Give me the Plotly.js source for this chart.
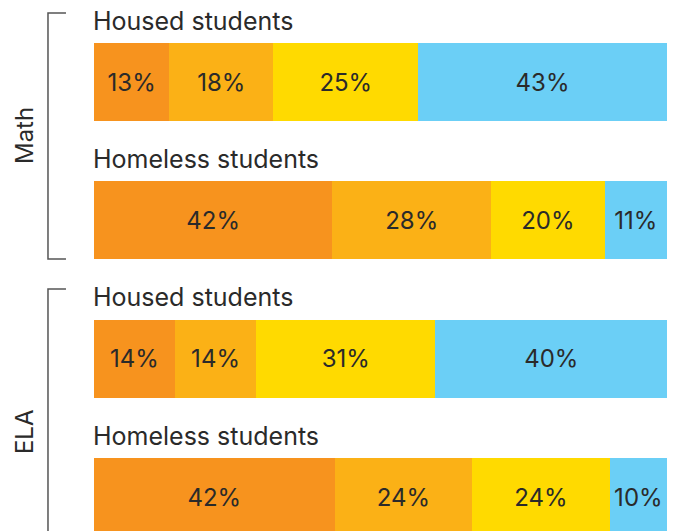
<!DOCTYPE html>
<html>
<head>
<meta charset="utf-8">
<script src="https://cdn.plot.ly/plotly-3.0.1.min.js"></script>
<style>html,body{margin:0;padding:0;background:#fff;}#chart{width:673px;height:531px;}</style>
</head>
<body>
<div id="chart"></div>
<script>
// Rows, top to bottom
var rowLabels = ["Housed students", "Homeless students", "Housed students", "Homeless students"];
var groupLabels = ["Math", "ELA"];
// Segment values (percent), left to right
var seg1 = [13, 42, 14, 42];
var seg2 = [18, 28, 14, 24];
var seg3 = [25, 20, 31, 24];
var seg4 = [43, 11, 40, 10];
var segColors = ["#F7931E", "#FBB116", "#FFDA00", "#6BCFF6"];

var rows = [0, 1, 2, 3];
var FONT = "Inter, 'Noto Sans', sans-serif";
var TXT = "#2a2a2a";

function seg(vals, color) {
  return {
    type: "bar", orientation: "h",
    x: vals, y: rows,
    width: 0.564,
    marker: {color: color, line: {width: 0}},
    text: vals.map(function (v) { return v + "%"; }),
    textposition: "inside",
    insidetextanchor: "middle",
    textangle: 0,
    textfont: {family: FONT, size: 24, color: TXT},
    hoverinfo: "skip",
    showlegend: false
  };
}

var data = [seg(seg1, segColors[0]), seg(seg2, segColors[1]), seg(seg3, segColors[2]), seg(seg4, segColors[3])];

var annotations = rowLabels.map(function (t, i) {
  return {
    text: t, xref: "paper", yref: "y", x: 0, y: i - 0.445, xshift: -3,
    xanchor: "left", yanchor: "middle", showarrow: false,
    font: {family: FONT, size: 25, color: TXT}
  };
});
annotations.push({
  text: groupLabels[0], xref: "paper", yref: "paper", x: -0.1204, y: 0.7625, xshift: -1,
  xanchor: "center", yanchor: "middle", textangle: -90, showarrow: false,
  font: {family: FONT, size: 24, color: TXT}
});
annotations.push({
  text: groupLabels[1], xref: "paper", yref: "paper", x: -0.1204, y: 0.191, xshift: -1,
  xanchor: "center", yanchor: "middle", textangle: -90, showarrow: false,
  font: {family: FONT, size: 24, color: TXT}
});

var xl = -0.0803, xr = -0.0489;
function bracket(top, bot) {
  return {
    type: "path", xref: "paper", yref: "paper",
    path: "M " + xr + " " + top + " L " + xl + " " + top + " L " + xl + " " + bot + " L " + xr + " " + bot,
    line: {color: "#555555", width: 1.5}
  };
}

var layout = {
  width: 673, height: 531,
  margin: {l: 94, r: 6, t: 13, b: 0, pad: 0},
  paper_bgcolor: "#ffffff", plot_bgcolor: "#ffffff",
  barmode: "stack", barnorm: "percent",
  xaxis: {range: [0, 100], visible: false, fixedrange: true},
  yaxis: {range: [3.245, -0.5], visible: false, fixedrange: true},
  annotations: annotations,
  shapes: [bracket(1.0, 0.525), bracket(0.467, -0.1)]
};

Plotly.newPlot("chart", data, layout, {displayModeBar: false, staticPlot: true});
</script>
</body>
</html>
